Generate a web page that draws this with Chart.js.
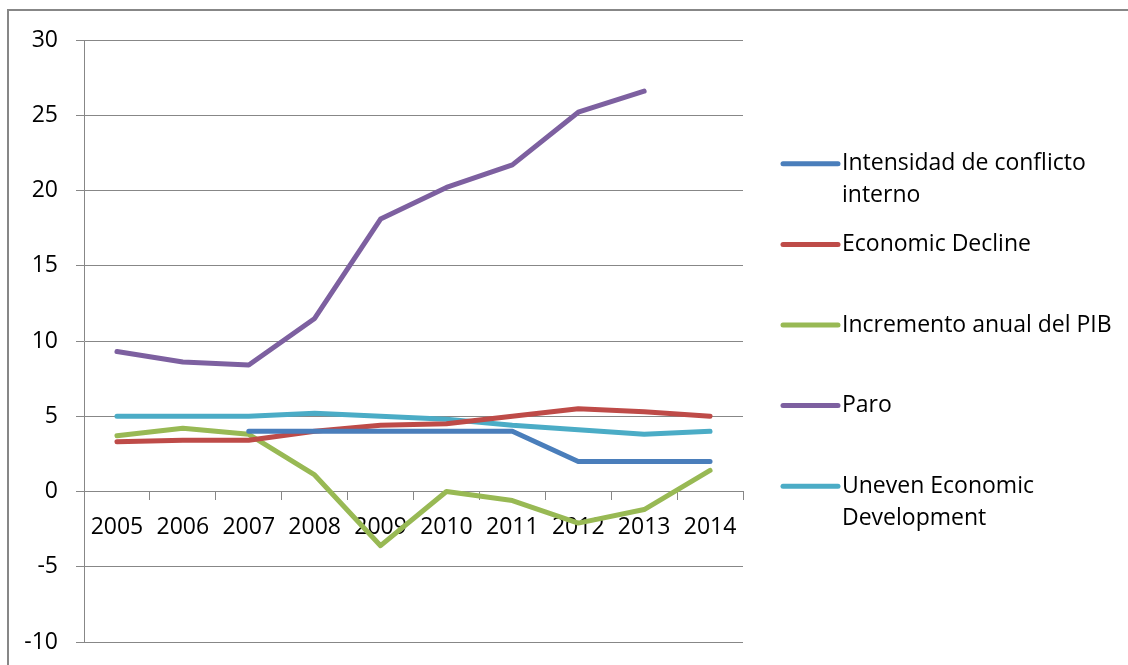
<!DOCTYPE html>
<html>
<head>
<meta charset="utf-8">
<script src="https://cdn.jsdelivr.net/npm/chart.js@4/dist/chart.umd.min.js"></script>
<style>
    html, body {
        margin: 0;
        padding: 0;
        background: #ffffff;
        overflow: hidden;
    }
    .frame {
        position: absolute;
        left: 7px;
        top: 9px;
        width: 1300px;
        height: 800px;
        border-left: 2px solid #878787;
        border-top: 2px solid #878787;
    }
    .wrap {
        position: absolute;
        left: 0;
        top: 0;
        width: 1128px;
        height: 665px;
    }
</style>
</head>
<body>
<div class="frame"></div>
<div class="wrap"><canvas id="conflictChart"></canvas></div>
<script>
Chart.defaults.font.family = "'Open Sans'";
Chart.defaults.font.size = 23;
Chart.defaults.color = '#000';

// data
const years = ['2005', '2006', '2007', '2008', '2009', '2010', '2011', '2012', '2013', '2014'];
const intensidad = [null, null, 4, 4, 4, 4, 4, 2, 2, 2];
const economicDecline = [3.3, 3.4, 3.4, 4.0, 4.4, 4.5, 5.0, 5.5, 5.3, 5.0];
const incrementoPIB = [3.7, 4.2, 3.8, 1.1, -3.6, 0.0, -0.6, -2.1, -1.2, 1.4];
const paro = [9.3, 8.6, 8.4, 11.5, 18.1, 20.2, 21.7, 25.2, 26.6, null];
const uneven = [5.0, 5.0, 5.0, 5.2, 5.0, 4.8, 4.4, 4.1, 3.8, 4.0];

const seriesNames = [
    'Intensidad de conflicto interno',
    'Economic Decline',
    'Incremento anual del PIB',
    'Paro',
    'Uneven Economic Development'
];
const seriesColors = ['#4A7EBB', '#BE4B48', '#98B954', '#7D60A0', '#4BACC6'];
const seriesValues = [intensidad, economicDecline, incrementoPIB, paro, uneven];

const gridColor = '#878787';

/* ===== legend drawn on the right, Excel style ===== */
const sideLegend = {
    id: 'sideLegend',
    afterDraw(chart) {
        const ctx = chart.ctx;
        const area = chart.chartArea;
        const x0 = area.right + 40;
        const textX = x0 + 59;
        const maxW = chart.width - textX - 6;
        const lineH = 32;
        const step = 80.6;
        const cy = (area.top + area.bottom) / 2;
        const n = chart.data.datasets.length;

        ctx.save();
        ctx.font = "23px 'Open Sans'";
        ctx.textBaseline = 'middle';
        ctx.fillStyle = '#000';

        chart.data.datasets.forEach((ds, i) => {
            const y = cy - lineH / 2 + (i - (n - 1) / 2) * step;

            ctx.strokeStyle = ds.borderColor;
            ctx.lineWidth = 5;
            ctx.lineCap = 'round';
            ctx.beginPath();
            ctx.moveTo(x0, y);
            ctx.lineTo(x0 + 55, y);
            ctx.stroke();

            // wrap the label into lines
            const words = ds.label.split(' ');
            const lines = [];
            let cur = '';
            words.forEach(w => {
                const test = cur ? cur + ' ' + w : w;
                if (ctx.measureText(test).width > maxW && cur) {
                    lines.push(cur);
                    cur = w;
                } else {
                    cur = test;
                }
            });
            lines.push(cur);

            lines.forEach((line, k) => {
                ctx.fillText(line, textX, y + k * lineH);
            });
        });

        ctx.restore();
    }
};

const ctx = document.getElementById('conflictChart');

new Chart(ctx, {
    type: 'line',

    plugins: [sideLegend],

    data: {
        labels: years,
        datasets: seriesNames.map((name, i) => ({
            label: name,
            data: seriesValues[i],
            borderColor: seriesColors[i],
            backgroundColor: seriesColors[i],
            borderWidth: 5,
            borderCapStyle: 'round',
            borderJoinStyle: 'round',
            pointRadius: 0,
            pointHoverRadius: 0,
            tension: 0,
            spanGaps: false
        }))
    },

    options: {
        responsive: true,
        maintainAspectRatio: false,
        animation: false,

        layout: {
            padding: {
                left: 10,
                right: 385,
                top: 40,
                bottom: 23
            }
        },

        plugins: {
            legend: {
                display: false
            },
            tooltip: {
                enabled: false
            }
        },

        scales: {
            x: {
                position: { y: 0 },
                offset: true,
                grid: {
                    drawOnChartArea: false,
                    drawTicks: true,
                    tickLength: 8,
                    offset: true,
                    color: gridColor
                },
                border: {
                    color: gridColor,
                    width: 1
                },
                ticks: {
                    padding: 14,
                    maxRotation: 0,
                    autoSkip: false
                }
            },
            y: {
                min: -10,
                max: 30,
                afterFit: function(scale) {
                    scale.width = 74;
                    scale.paddingTop = 0;
                    scale.paddingBottom = 0;
                },
                ticks: {
                    stepSize: 5,
                    padding: 18
                },
                grid: {
                    color: gridColor,
                    tickLength: 8
                },
                border: {
                    color: gridColor,
                    width: 1
                }
            }
        }
    }
});
</script>
</body>
</html>
